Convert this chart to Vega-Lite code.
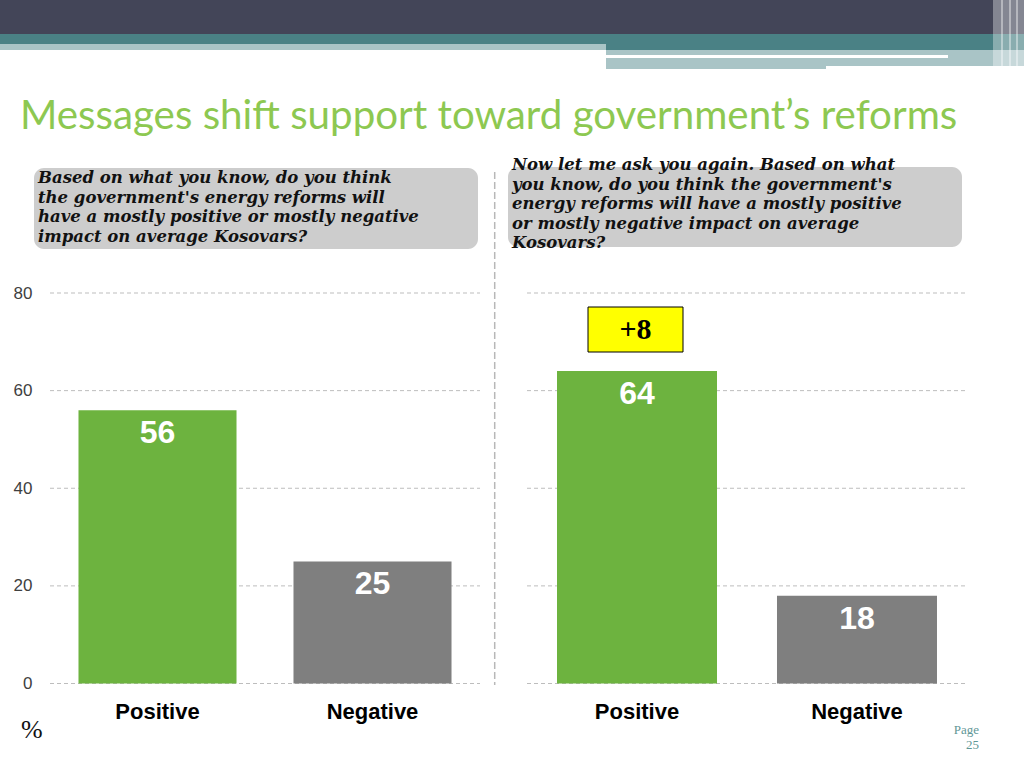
{
  "$schema": "https://vega.github.io/schema/vega-lite/v6.json",
  "width": 1024,
  "height": 768,
  "autosize": {"type": "fit", "contains": "padding"},
  "padding": 0,
  "background": "#ffffff",
  "config": {"view": {"stroke": null}},
  "datasets": {
    "bars": [
      {"round": "First ask", "response": "Positive", "pct": 56},
      {"round": "First ask", "response": "Negative", "pct": 25},
      {"round": "Second ask", "response": "Positive", "pct": 64},
      {"round": "Second ask", "response": "Negative", "pct": 18}
    ],
    "ticks": [{"tick": 0}, {"tick": 20}, {"tick": 40}, {"tick": 60}, {"tick": 80}]
  },
  "resolve": {"scale": {"x": "independent", "y": "independent"}},
  "layer": [
    {
      "data": {"values": [{}]},
      "layer": [
        {"mark": {"type": "rect", "color": "#434558"},
         "encoding": {"x": {"datum": 0, "type": "quantitative", "scale": {"domain": [0, 1024], "nice": false, "zero": false}, "axis": null}, "x2": {"datum": 1024},
                      "y": {"datum": 0, "type": "quantitative", "scale": {"domain": [0, 768], "reverse": true, "nice": false, "zero": false}, "axis": null}, "y2": {"datum": 34}}},
        {"mark": {"type": "rect", "color": "#4a8185"},
         "encoding": {"x": {"datum": 0, "type": "quantitative", "scale": {"domain": [0, 1024], "nice": false, "zero": false}, "axis": null}, "x2": {"datum": 1024},
                      "y": {"datum": 34, "type": "quantitative", "scale": {"domain": [0, 768], "reverse": true, "nice": false, "zero": false}, "axis": null}, "y2": {"datum": 44}}},
        {"mark": {"type": "rect", "color": "#4a8185"},
         "encoding": {"x": {"datum": 606, "type": "quantitative", "scale": {"domain": [0, 1024], "nice": false, "zero": false}, "axis": null}, "x2": {"datum": 1024},
                      "y": {"datum": 44, "type": "quantitative", "scale": {"domain": [0, 768], "reverse": true, "nice": false, "zero": false}, "axis": null}, "y2": {"datum": 50}}},
        {"mark": {"type": "rect", "color": "#a9c4c6"},
         "encoding": {"x": {"datum": 0, "type": "quantitative", "scale": {"domain": [0, 1024], "nice": false, "zero": false}, "axis": null}, "x2": {"datum": 606},
                      "y": {"datum": 44, "type": "quantitative", "scale": {"domain": [0, 768], "reverse": true, "nice": false, "zero": false}, "axis": null}, "y2": {"datum": 50}}},
        {"mark": {"type": "rect", "color": "#a9c4c6"},
         "encoding": {"x": {"datum": 606, "type": "quantitative", "scale": {"domain": [0, 1024], "nice": false, "zero": false}, "axis": null}, "x2": {"datum": 1024},
                      "y": {"datum": 50, "type": "quantitative", "scale": {"domain": [0, 768], "reverse": true, "nice": false, "zero": false}, "axis": null}, "y2": {"datum": 66}}},
        {"mark": {"type": "rect", "color": "#a9c4c6"},
         "encoding": {"x": {"datum": 606, "type": "quantitative", "scale": {"domain": [0, 1024], "nice": false, "zero": false}, "axis": null}, "x2": {"datum": 826},
                      "y": {"datum": 66, "type": "quantitative", "scale": {"domain": [0, 768], "reverse": true, "nice": false, "zero": false}, "axis": null}, "y2": {"datum": 69}}},
        {"mark": {"type": "rect", "color": "#ffffff"},
         "encoding": {"x": {"datum": 606, "type": "quantitative", "scale": {"domain": [0, 1024], "nice": false, "zero": false}, "axis": null}, "x2": {"datum": 948},
                      "y": {"datum": 55, "type": "quantitative", "scale": {"domain": [0, 768], "reverse": true, "nice": false, "zero": false}, "axis": null}, "y2": {"datum": 58}}},
        {"mark": {"type": "rect", "color": "#ffffff", "opacity": 0.35},
         "encoding": {"x": {"datum": 993, "type": "quantitative", "scale": {"domain": [0, 1024], "nice": false, "zero": false}, "axis": null}, "x2": {"datum": 1024},
                      "y": {"datum": 0, "type": "quantitative", "scale": {"domain": [0, 768], "reverse": true, "nice": false, "zero": false}, "axis": null}, "y2": {"datum": 68}}},
        {"mark": {"type": "rect", "color": "#ffffff", "opacity": 0.4},
         "encoding": {"x": {"datum": 1001, "type": "quantitative", "scale": {"domain": [0, 1024], "nice": false, "zero": false}, "axis": null}, "x2": {"datum": 1003},
                      "y": {"datum": 0, "type": "quantitative", "scale": {"domain": [0, 768], "reverse": true, "nice": false, "zero": false}, "axis": null}, "y2": {"datum": 68}}},
        {"mark": {"type": "rect", "color": "#ffffff", "opacity": 0.4},
         "encoding": {"x": {"datum": 1009, "type": "quantitative", "scale": {"domain": [0, 1024], "nice": false, "zero": false}, "axis": null}, "x2": {"datum": 1011},
                      "y": {"datum": 0, "type": "quantitative", "scale": {"domain": [0, 768], "reverse": true, "nice": false, "zero": false}, "axis": null}, "y2": {"datum": 68}}},
        {"mark": {"type": "rect", "color": "#ffffff", "opacity": 0.4},
         "encoding": {"x": {"datum": 1016, "type": "quantitative", "scale": {"domain": [0, 1024], "nice": false, "zero": false}, "axis": null}, "x2": {"datum": 1018},
                      "y": {"datum": 0, "type": "quantitative", "scale": {"domain": [0, 768], "reverse": true, "nice": false, "zero": false}, "axis": null}, "y2": {"datum": 68}}},
        {"mark": {"type": "text", "font": "Lato", "fontSize": 40.3, "color": "#8dc851", "align": "left", "baseline": "alphabetic"},
         "encoding": {"x": {"datum": 20, "type": "quantitative", "scale": {"domain": [0, 1024], "nice": false, "zero": false}, "axis": null},
                      "y": {"datum": 129, "type": "quantitative", "scale": {"domain": [0, 768], "reverse": true, "nice": false, "zero": false}, "axis": null},
                      "text": {"value": "Messages shift support toward government’s reforms"}}},
        {"mark": {"type": "rect", "color": "#cdcdcd", "cornerRadius": 10},
         "encoding": {"x": {"datum": 34, "type": "quantitative", "scale": {"domain": [0, 1024], "nice": false, "zero": false}, "axis": null}, "x2": {"datum": 478},
                      "y": {"datum": 168, "type": "quantitative", "scale": {"domain": [0, 768], "reverse": true, "nice": false, "zero": false}, "axis": null}, "y2": {"datum": 249}}},
        {"mark": {"type": "rect", "color": "#cdcdcd", "cornerRadius": 10},
         "encoding": {"x": {"datum": 508, "type": "quantitative", "scale": {"domain": [0, 1024], "nice": false, "zero": false}, "axis": null}, "x2": {"datum": 962},
                      "y": {"datum": 167, "type": "quantitative", "scale": {"domain": [0, 768], "reverse": true, "nice": false, "zero": false}, "axis": null}, "y2": {"datum": 247}}},
        {"mark": {"type": "text", "font": "DejaVu Serif", "fontSize": 16.5, "fontWeight": "bold", "fontStyle": "italic", "color": "#111111", "align": "left", "baseline": "alphabetic", "lineHeight": 19.5},
         "encoding": {"x": {"datum": 38, "type": "quantitative", "scale": {"domain": [0, 1024], "nice": false, "zero": false}, "axis": null},
                      "y": {"datum": 183, "type": "quantitative", "scale": {"domain": [0, 768], "reverse": true, "nice": false, "zero": false}, "axis": null},
                      "text": {"value": ["Based on what you know, do you think", "the government's energy reforms will", "have a mostly positive or mostly negative", "impact on average Kosovars?"]}}},
        {"mark": {"type": "text", "font": "DejaVu Serif", "fontSize": 16.5, "fontWeight": "bold", "fontStyle": "italic", "color": "#111111", "align": "left", "baseline": "alphabetic", "lineHeight": 19.5},
         "encoding": {"x": {"datum": 512, "type": "quantitative", "scale": {"domain": [0, 1024], "nice": false, "zero": false}, "axis": null},
                      "y": {"datum": 170, "type": "quantitative", "scale": {"domain": [0, 768], "reverse": true, "nice": false, "zero": false}, "axis": null},
                      "text": {"value": ["Now let me ask you again. Based on what", "you know, do you think the government's", "energy reforms will have a mostly positive", "or mostly negative impact on average", "Kosovars?"]}}},
        {"mark": {"type": "rule", "color": "#b8b8b8", "strokeWidth": 1.5, "strokeDash": [7, 3]},
         "encoding": {"x": {"datum": 494.7, "type": "quantitative", "scale": {"domain": [0, 1024], "nice": false, "zero": false}, "axis": null},
                      "y": {"datum": 172, "type": "quantitative", "scale": {"domain": [0, 768], "reverse": true, "nice": false, "zero": false}, "axis": null}, "y2": {"datum": 685}}},
        {"mark": {"type": "rect", "color": "#ffff00", "stroke": "#000000", "strokeWidth": 1},
         "encoding": {"x": {"datum": 588, "type": "quantitative", "scale": {"domain": [0, 1024], "nice": false, "zero": false}, "axis": null}, "x2": {"datum": 683},
                      "y": {"datum": 307, "type": "quantitative", "scale": {"domain": [0, 768], "reverse": true, "nice": false, "zero": false}, "axis": null}, "y2": {"datum": 352}}},
        {"mark": {"type": "text", "font": "Liberation Serif", "fontSize": 30, "fontWeight": "bold", "color": "#000000", "align": "center", "baseline": "alphabetic"},
         "encoding": {"x": {"datum": 635.5, "type": "quantitative", "scale": {"domain": [0, 1024], "nice": false, "zero": false}, "axis": null},
                      "y": {"datum": 339, "type": "quantitative", "scale": {"domain": [0, 768], "reverse": true, "nice": false, "zero": false}, "axis": null},
                      "text": {"value": "+8"}}},
        {"mark": {"type": "text", "font": "Liberation Serif", "fontSize": 26, "color": "#111111", "align": "left", "baseline": "alphabetic"},
         "encoding": {"x": {"datum": 21, "type": "quantitative", "scale": {"domain": [0, 1024], "nice": false, "zero": false}, "axis": null},
                      "y": {"datum": 738, "type": "quantitative", "scale": {"domain": [0, 768], "reverse": true, "nice": false, "zero": false}, "axis": null},
                      "text": {"value": "%"}}},
        {"mark": {"type": "text", "font": "Liberation Serif", "fontSize": 13, "color": "#5f9797", "align": "right", "baseline": "alphabetic", "lineHeight": 15},
         "encoding": {"x": {"datum": 979, "type": "quantitative", "scale": {"domain": [0, 1024], "nice": false, "zero": false}, "axis": null},
                      "y": {"datum": 734, "type": "quantitative", "scale": {"domain": [0, 768], "reverse": true, "nice": false, "zero": false}, "axis": null},
                      "text": {"value": ["Page", "25"]}}}
      ]
    },
    {
      "data": {"name": "ticks"},
      "mark": {"type": "rule", "color": "#bdbdbd", "strokeWidth": 1, "strokeDash": [4, 3]},
      "encoding": {
        "x": {"datum": 0, "type": "quantitative", "scale": {"domain": [0, 1], "range": [50, 480], "nice": false, "zero": false}, "axis": null},
        "x2": {"datum": 1},
        "y": {"field": "tick", "type": "quantitative", "scale": {"domain": [0, 80], "range": [683.5, 293], "nice": false},
              "axis": {"orient": "left", "offset": -34, "domain": false, "ticks": false, "grid": false, "labelPadding": 2, "labelFont": "Liberation Sans", "labelFontSize": 17, "labelColor": "#404040", "values": [0, 20, 40, 60, 80], "title": null}}
      }
    },
    {
      "data": {"name": "ticks"},
      "mark": {"type": "rule", "color": "#bdbdbd", "strokeWidth": 1, "strokeDash": [4, 3]},
      "encoding": {
        "x": {"datum": 0, "type": "quantitative", "scale": {"domain": [0, 1], "range": [527, 965], "nice": false, "zero": false}, "axis": null},
        "x2": {"datum": 1},
        "y": {"field": "tick", "type": "quantitative", "scale": {"domain": [0, 80], "range": [683.5, 293], "nice": false}, "axis": null}
      }
    },
    {
      "data": {"name": "bars"},
      "transform": [{"filter": "datum.round === 'First ask'"}],
      "encoding": {
        "x": {"field": "response", "type": "nominal", "sort": ["Positive", "Negative"], "scale": {"domain": ["Positive", "Negative"], "range": [50, 480], "paddingInner": 0.265, "paddingOuter": 0.1325}, "axis": null}
      },
      "layer": [
        {"mark": {"type": "bar"},
         "encoding": {"y": {"field": "pct", "type": "quantitative", "scale": {"domain": [0, 80], "range": [683.5, 293], "nice": false}, "axis": null},
                      "color": {"field": "response", "type": "nominal", "scale": {"domain": ["Positive", "Negative"], "range": ["#6db33f", "#7f7f7f"]}, "legend": null}}},
        {"mark": {"type": "text", "font": "Liberation Sans", "fontSize": 32, "fontWeight": "bold", "color": "#ffffff", "align": "center", "baseline": "alphabetic", "dy": 33},
         "encoding": {"y": {"field": "pct", "type": "quantitative", "scale": {"domain": [0, 80], "range": [683.5, 293], "nice": false}, "axis": null},
                      "text": {"field": "pct", "type": "quantitative"}}},
        {"mark": {"type": "text", "font": "Liberation Sans", "fontSize": 22, "fontWeight": "bold", "color": "#000000", "align": "center", "baseline": "alphabetic"},
         "encoding": {"y": {"datum": -7.3, "type": "quantitative", "scale": {"domain": [0, 80], "range": [683.5, 293], "nice": false}, "axis": null},
                      "text": {"field": "response", "type": "nominal"}}}
      ]
    },
    {
      "data": {"name": "bars"},
      "transform": [{"filter": "datum.round === 'Second ask'"}],
      "encoding": {
        "x": {"field": "response", "type": "nominal", "sort": ["Positive", "Negative"], "scale": {"domain": ["Positive", "Negative"], "range": [527, 967], "paddingInner": 0.2727, "paddingOuter": 0.1364}, "axis": null}
      },
      "layer": [
        {"mark": {"type": "bar"},
         "encoding": {"y": {"field": "pct", "type": "quantitative", "scale": {"domain": [0, 80], "range": [683.5, 293], "nice": false}, "axis": null},
                      "color": {"field": "response", "type": "nominal", "scale": {"domain": ["Positive", "Negative"], "range": ["#6db33f", "#7f7f7f"]}, "legend": null}}},
        {"mark": {"type": "text", "font": "Liberation Sans", "fontSize": 32, "fontWeight": "bold", "color": "#ffffff", "align": "center", "baseline": "alphabetic", "dy": 33},
         "encoding": {"y": {"field": "pct", "type": "quantitative", "scale": {"domain": [0, 80], "range": [683.5, 293], "nice": false}, "axis": null},
                      "text": {"field": "pct", "type": "quantitative"}}},
        {"mark": {"type": "text", "font": "Liberation Sans", "fontSize": 22, "fontWeight": "bold", "color": "#000000", "align": "center", "baseline": "alphabetic"},
         "encoding": {"y": {"datum": -7.3, "type": "quantitative", "scale": {"domain": [0, 80], "range": [683.5, 293], "nice": false}, "axis": null},
                      "text": {"field": "response", "type": "nominal"}}}
      ]
    }
  ]
}
